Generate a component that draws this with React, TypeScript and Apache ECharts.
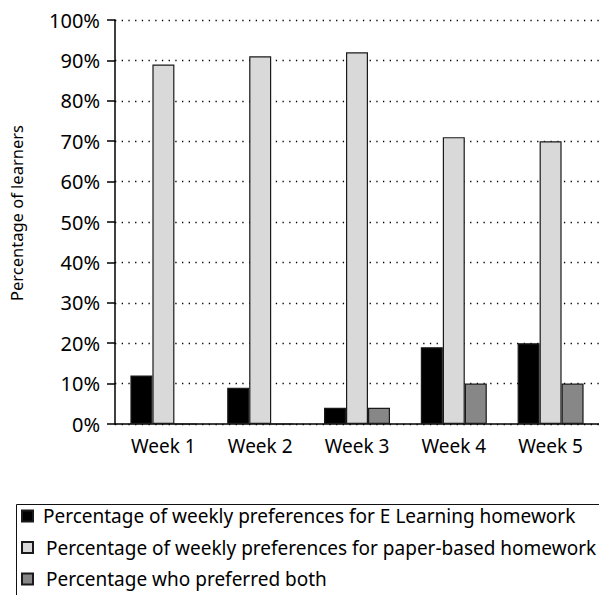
import React, { useEffect, useRef } from "react";
import * as echarts from "echarts";

const categories = ["Week 1", "Week 2", "Week 3", "Week 4", "Week 5"];
const eLearning = [12, 9, 4, 19, 20];
const paperBased = [89, 91, 92, 71, 70];
const both = [0, 0, 4, 10, 10];
const seriesNames = [
  "Percentage of weekly preferences for E Learning homework",
  "Percentage of weekly preferences for paper-based homework",
  "Percentage who preferred both",
];
const FONT = "Noto Sans";

export default function App() {
  const ref = useRef<HTMLDivElement>(null);
  useEffect(() => {
    if (!ref.current) return;
    const chart = echarts.init(ref.current, undefined, { renderer: "svg" });
    const mkSeries = (name: string, data: number[], color: string) => ({
      name,
      type: "bar",
      data,
      barWidth: 22,
      barGap: "0%",
      itemStyle: { color, borderColor: "#1a1a1a", borderWidth: 1.2 },
    });
    const legendText = { color: "#000", fontSize: 19, fontFamily: FONT, lineHeight: 20 };
    chart.setOption({
      animation: false,
      textStyle: { fontFamily: FONT },
      grid: { left: 113, top: 20, width: 490, height: 404 },
      xAxis: {
        type: "category",
        data: categories,
        axisLine: { lineStyle: { color: "#000", width: 1.5 } },
        axisTick: { length: 7, lineStyle: { color: "#000", width: 1.5 } },
        axisLabel: { color: "#000", fontSize: 19, margin: 12, fontFamily: FONT },
      },
      yAxis: {
        type: "value",
        min: 0,
        max: 100,
        interval: 10,
        name: "Percentage of learners",
        nameLocation: "middle",
        nameGap: 90,
        nameTextStyle: { color: "#000", fontSize: 16.5, fontFamily: FONT, padding: [0, 0, 0, 18] },
        axisLine: { show: true, lineStyle: { color: "#000", width: 1.5 } },
        axisTick: { show: true, length: 8, lineStyle: { color: "#000", width: 1.5 } },
        axisLabel: { color: "#000", fontSize: 20, margin: 15, formatter: "{value}%", fontFamily: FONT },
        splitLine: { show: true, lineStyle: { color: "#000", width: 1.3, type: [1.3, 5.4] } },
      },
      legend: {
        orient: "vertical",
        left: 21,
        top: 506,
        padding: 0,
        itemWidth: 11,
        itemHeight: 11,
        itemGap: 11.5,
        icon: "rect",
        textStyle: {
          ...legendText,
          rich: {
            a: { ...legendText, padding: [0, 0, 0, 5] },
            b: { ...legendText, padding: [0, 0, 0, 8] },
          },
        },
        formatter: (name: string) => (name === seriesNames[0] ? `{a|${name}}` : `{b|${name}}`),
        data: seriesNames,
      },
      graphic: [
        {
          type: "rect",
          left: 14,
          top: 502,
          shape: { width: 700, height: 200 },
          style: { fill: "none", stroke: "#111", lineWidth: 1 },
          silent: true,
        },
      ],
      series: [
        mkSeries(seriesNames[0], eLearning, "#000000"),
        mkSeries(seriesNames[1], paperBased, "#d9d9d9"),
        mkSeries(seriesNames[2], both, "#878787"),
      ],
    });
    return () => chart.dispose();
  }, []);
  return <div ref={ref} style={{ width: 599, height: 595, position: "absolute", left: 0, top: 0 }} />;
}
